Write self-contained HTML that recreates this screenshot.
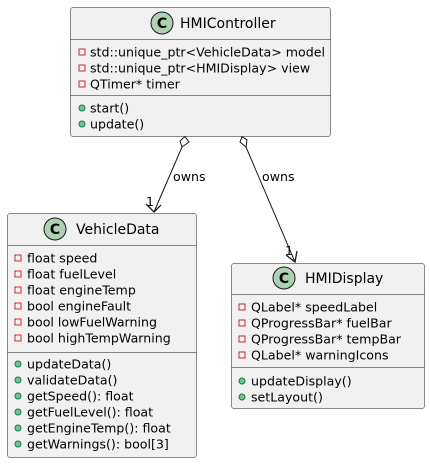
<!DOCTYPE html>
<html><head><meta charset="utf-8"><style>
html,body{margin:0;padding:0;background:#fff;}
svg text{font-family:"DejaVu Sans","Liberation Sans",sans-serif;font-size:12.6px;fill:#000;}
</style></head><body>
<svg width="430" height="463" viewBox="0 0 430 463" xmlns="http://www.w3.org/2000/svg">
<defs>
<g id="priv"><rect x="-3" y="-3" width="6" height="6" fill="none" stroke="#C82930" stroke-width="1"/></g>
<g id="pub"><circle r="3" fill="#84BE84" stroke="#038048" stroke-width="1"/></g>
</defs>
<!-- HMIController -->
<rect x="70.5" y="7.5" width="260" height="129" rx="2.5" fill="#F1F1F1" stroke="#181818" stroke-width="0.5"/>
<line x1="70.5" y1="39.5" x2="330.5" y2="39.5" stroke="#181818" stroke-width="0.5"/>
<line x1="70.5" y1="95.5" x2="330.5" y2="95.5" stroke="#181818" stroke-width="0.5"/>
<circle cx="162" cy="23" r="11" fill="#ADD1B2" stroke="#181818" stroke-width="1"/>
<text x="162" y="28" text-anchor="middle" style="font-weight:bold;font-size:14px">C</text>
<text x="180" y="28" style="font-size:14px">HMIController</text>
<use href="#priv" x="82" y="52"/><text x="90" y="56.5">std::unique_ptr&lt;VehicleData&gt; model</text>
<use href="#priv" x="82" y="68"/><text x="90" y="72.5">std::unique_ptr&lt;HMIDisplay&gt; view</text>
<use href="#priv" x="82" y="84"/><text x="90" y="88.5">QTimer* timer</text>
<use href="#pub" x="82" y="108"/><text x="90" y="112.5">start()</text>
<use href="#pub" x="82" y="124"/><text x="90" y="128.5">update()</text>

<!-- VehicleData -->
<rect x="7.5" y="213.5" width="189" height="244" rx="2.5" fill="#F1F1F1" stroke="#181818" stroke-width="0.5"/>
<line x1="7.5" y1="245.5" x2="196.5" y2="245.5" stroke="#181818" stroke-width="0.5"/>
<line x1="7.5" y1="352.5" x2="196.5" y2="352.5" stroke="#181818" stroke-width="0.5"/>
<circle cx="55" cy="229" r="11" fill="#ADD1B2" stroke="#181818" stroke-width="1"/>
<text x="55" y="234" text-anchor="middle" style="font-weight:bold;font-size:14px">C</text>
<text x="76" y="234" style="font-size:14px">VehicleData</text>
<use href="#priv" x="18" y="258"/><text x="27" y="262.5">float speed</text>
<use href="#priv" x="18" y="274"/><text x="27" y="278.5">float fuelLevel</text>
<use href="#priv" x="18" y="290"/><text x="27" y="294.5">float engineTemp</text>
<use href="#priv" x="18" y="306"/><text x="27" y="310.5">bool engineFault</text>
<use href="#priv" x="18" y="322"/><text x="27" y="326.5">bool lowFuelWarning</text>
<use href="#priv" x="18" y="338"/><text x="27" y="342.5">bool highTempWarning</text>
<use href="#pub" x="18" y="364"/><text x="27" y="368.5">updateData()</text>
<use href="#pub" x="18" y="380"/><text x="27" y="384.5">validateData()</text>
<use href="#pub" x="18" y="396"/><text x="27" y="400.5">getSpeed(): float</text>
<use href="#pub" x="18" y="412"/><text x="27" y="416.5">getFuelLevel(): float</text>
<use href="#pub" x="18" y="428"/><text x="27" y="432.5">getEngineTemp(): float</text>
<use href="#pub" x="18" y="444"/><text x="27" y="448.5">getWarnings(): bool[3]</text>

<!-- HMIDisplay -->
<rect x="231.5" y="263.5" width="193" height="145" rx="2.5" fill="#F1F1F1" stroke="#181818" stroke-width="0.5"/>
<line x1="231.5" y1="294.5" x2="424.5" y2="294.5" stroke="#181818" stroke-width="0.5"/>
<line x1="231.5" y1="367.5" x2="424.5" y2="367.5" stroke="#181818" stroke-width="0.5"/>
<circle cx="284" cy="278" r="11" fill="#ADD1B2" stroke="#181818" stroke-width="1"/>
<text x="284" y="283" text-anchor="middle" style="font-weight:bold;font-size:14px">C</text>
<text x="305" y="283" style="font-size:14px">HMIDisplay</text>
<use href="#priv" x="242" y="307"/><text x="251" y="311.5">QLabel* speedLabel</text>
<use href="#priv" x="242" y="323"/><text x="251" y="327.5">QProgressBar* fuelBar</text>
<use href="#priv" x="242" y="339"/><text x="251" y="343.5">QProgressBar* tempBar</text>
<use href="#priv" x="242" y="355"/><text x="251" y="359.5">QLabel* warningIcons</text>
<use href="#pub" x="242" y="381"/><text x="251" y="385.5">updateDisplay()</text>
<use href="#pub" x="242" y="397"/><text x="251" y="401.5">setLayout()</text>

<!-- edges -->
<g stroke="#181818" stroke-width="1" fill="none">
<polygon points="185,136.5 189,142 182,147 180,141" fill="#fff"/>
<line x1="182" y1="147" x2="154" y2="212"/>
<polyline points="146,204 154,212 161,205" stroke-width="1.3"/>
<polygon points="242,136.5 247,140 246,147 240,142" fill="#fff"/>
<line x1="246" y1="147" x2="295" y2="262"/>
<polyline points="286,255 295,262 297,251" stroke-width="1.3"/>
</g>
<text x="173" y="181">owns</text>
<text x="262" y="181">owns</text>
<text x="146" y="206">1</text>
<text x="285" y="255">1</text>
</svg>
</body></html>
